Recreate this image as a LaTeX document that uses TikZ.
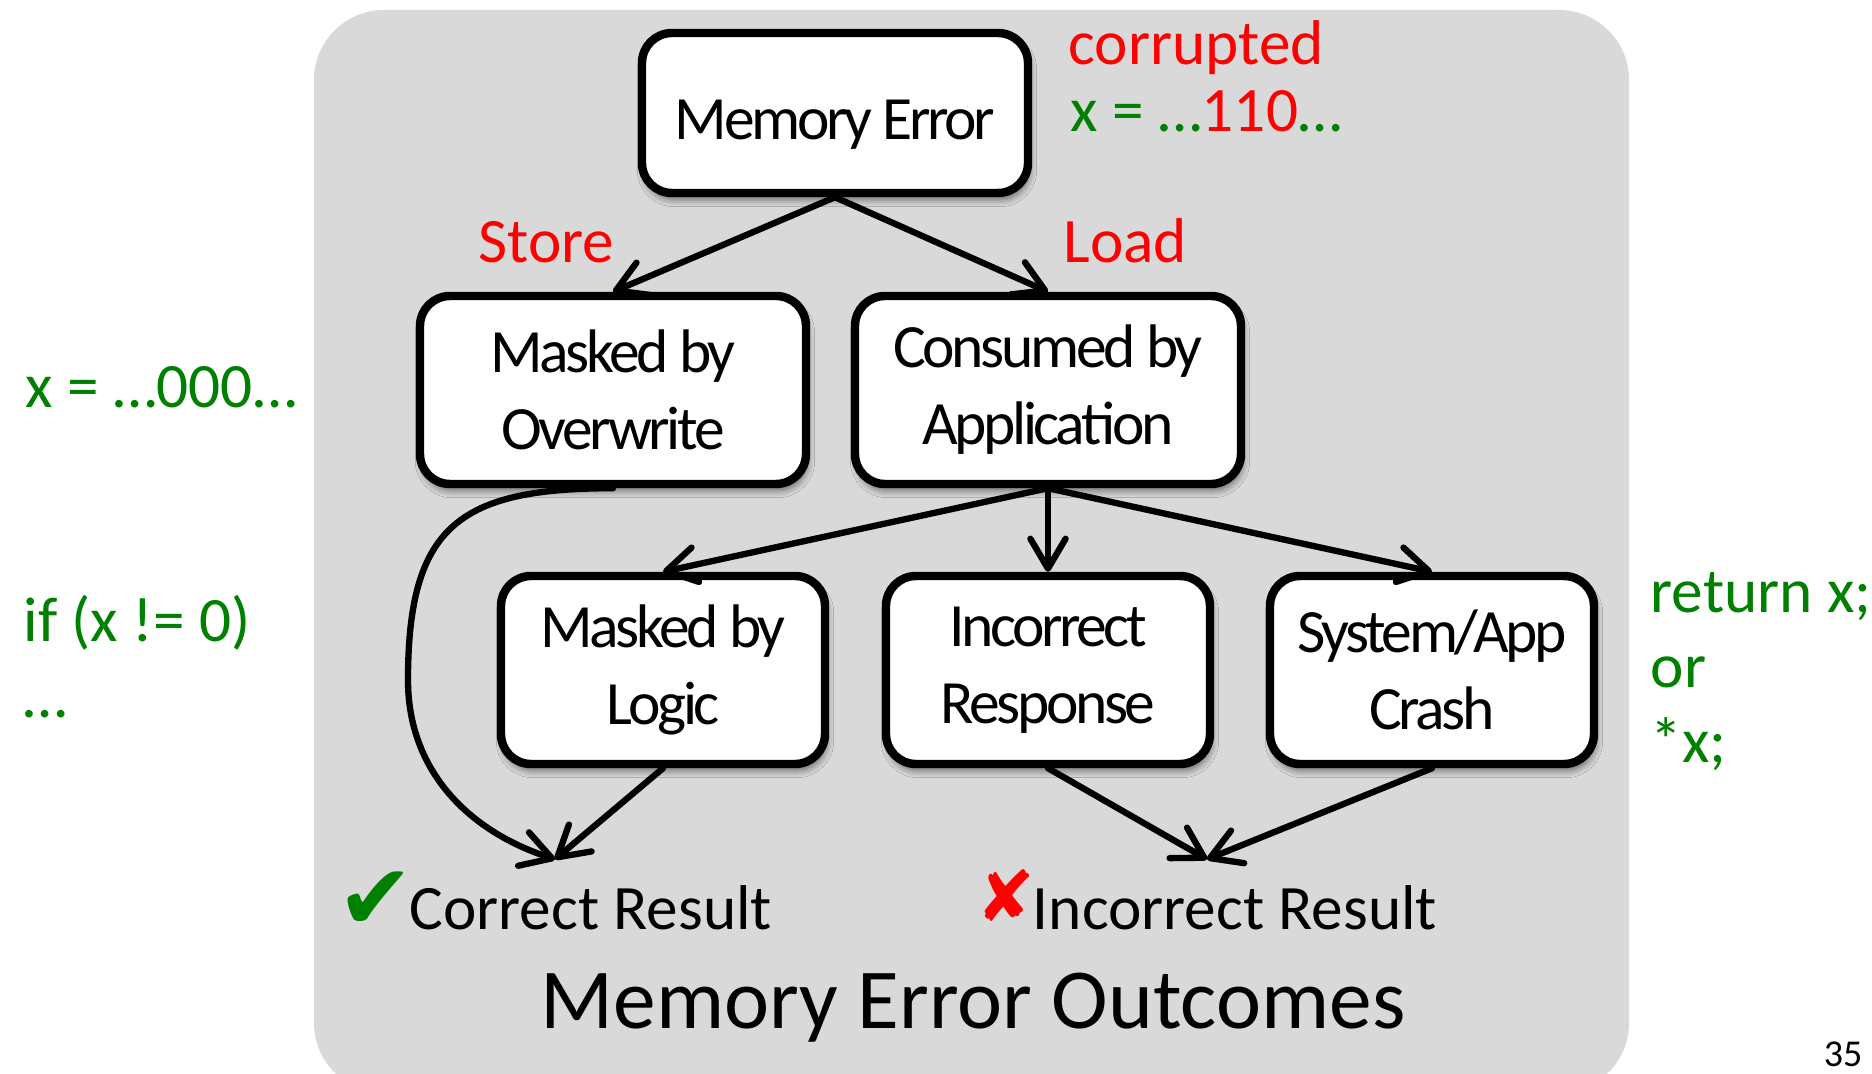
\documentclass[tikz,border=0pt]{standalone}
\usepackage{fontspec}
\setmainfont{Carlito}
\newfontfamily\boxfont[LetterSpace=-5.5]{Carlito}
\newfontfamily\symbfont{DejaVu Sans}
\usetikzlibrary{positioning,arrows.meta,shadows.blur}
\definecolor{panelgrey}{HTML}{D9D9D9}
\definecolor{codegreen}{HTML}{008000}
\definecolor{hotred}{HTML}{FF0000}

\begin{document}
\begin{tikzpicture}[node distance=2.8cm,on grid,
  >={Straight Barb[length=8.5pt,width=10pt,round]},
  errbox/.style={draw,line width=2.4pt,fill=white,rounded corners=0.3cm,align=center,
    minimum width=3.86cm,minimum height=1.88cm,inner sep=0pt,
    font=\boxfont\fontsize{17.5}{21.9}\selectfont,
    blur shadow={shadow xshift=0.02cm,shadow yshift=-0.07cm,shadow blur steps=6,shadow opacity=50}},
  lowbox/.style={errbox,minimum width=3.24cm},
  note/.style={anchor=base west,inner sep=0pt,font=\fontsize{18}{21.5}\selectfont},
  result/.style={anchor=base,inner sep=0pt,text height=0.7cm,font=\fontsize{18}{21.5}\selectfont},
  flow/.style={line width=1.8pt,line cap=round}]
  \useasboundingbox (0,0) rectangle (18.72,10.73);
  \fill[panelgrey,rounded corners=0.7cm] (3.14,-0.2) rectangle (16.29,10.63);
  \path
  node[errbox,minimum height=1.6cm,text height=0.62cm] (mem) at (8.35,9.60) {Memory Error}
  node[errbox,below left=2.77cm and 2.22cm of mem] (ovw) {Masked by\\Overwrite}
  node[errbox,below right=2.77cm and 2.13cm of mem] (app) {Consumed by\\Application}
  node[lowbox,below left=2.8cm and 3.85cm of app] (logic) {Masked by\\Logic}
  node[lowbox,below=of app] (resp) {Incorrect\\Response}
  node[lowbox,below right=2.8cm and 3.84cm of app] (crash) {System/App\\Crash}
  node[result] (ok) at (5.55,1.43)
  {\raisebox{0cm}{\symbfont\fontsize{26}{26}\selectfont\color{codegreen}✔}\hspace{-0.05cm}Correct Result}
  node[result] (bad) at (12.07,1.43)
  {\raisebox{0.08cm}{\symbfont\fontsize{20}{20}\selectfont\color{hotred}✘}\hspace{-0.03cm}Incorrect Result}
  node[anchor=base,inner sep=0pt,font=\fontsize{24.3}{28}\selectfont] (title) at (9.73,0.44) {Memory Error Outcomes}
  node[note,text=hotred] (corr) at (10.68,10.08) {corrupted}
  node[note,text=codegreen] (bits) at (10.70,9.41) {x = …{\color{hotred}110}…}
  node[note,anchor=base east,text=hotred] (store) at (6.15,8.10) {Store}
  node[note,text=hotred] (load) at (10.63,8.10) {Load}
  node[note,text=codegreen] (zero) at (0.25,6.65) {x = …000…}
  node[note,text=codegreen] (cond) at (0.23,4.31) {if (x != 0)}
  node[note,text=codegreen] (dots) at (0.23,3.55) {…}
  node[note,text=codegreen] (ret) at (16.50,4.60) {return x;}
  node[note,text=codegreen] (or) at (16.50,3.85) {or}
  node[note,text=codegreen] (deref) at (16.50,3.10) {*x;}
  node[anchor=base east,inner sep=0pt,font=\fontsize{10.8}{12}\selectfont] (page) at (18.63,0.06) {35}
  ;
  \coordinate (bend) at (4.08,3.93);
  \path[->,flow]
  (mem.south) edge (ovw.north)
  (mem.south) edge (app.north)
  (app.south) edge (logic.north)
  (app.south) edge (resp.north)
  (app.south) edge (crash.north)
  (logic.south) edge (ok.north)
  (resp.south) edge (bad.north)
  (crash.south) edge (bad.north)
  ;
  \draw[->,flow] (ovw.south) to[out=180,in=90,looseness=1.4] (bend) to[out=-90,in=162] (ok.north);
\end{tikzpicture}
\end{document}
